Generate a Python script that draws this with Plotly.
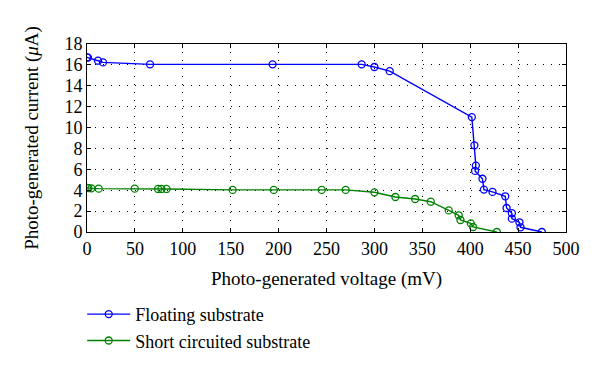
import plotly.graph_objects as go

float_v = [0, 1, 11.5, 16.7, 65.8, 193.7, 286.7, 300, 316, 401.7, 404.4, 405.9, 405.1, 412.8,
           414.3, 423.3, 436.6, 438, 443.5, 443.5, 451.4, 452.5, 474.8]
float_i = [16.72, 16.7, 16.4, 16.24, 16.05, 16.05, 16.05, 15.8, 15.4, 11.0, 8.3, 6.36, 5.85, 5.1,
           4.06, 3.84, 3.42, 2.3, 1.8, 1.28, 0.93, 0.45, 0.0]

short_v = [0, 1.5, 4.6, 12.2, 49.8, 74.2, 77.7, 83, 152, 195, 245, 270, 300, 321.9, 342.5,
           358.8, 377.6, 388, 389.8, 400.6, 403, 427.8]
short_i = [4.22, 4.2, 4.18, 4.15, 4.15, 4.12, 4.12, 4.12, 4.03, 4.03, 4.03, 4.03, 3.8, 3.35, 3.16,
           2.9, 2.07, 1.6, 1.15, 0.83, 0.48, 0.0]

names = ["Floating substrate", "Short circuited substrate"]
colors = ["#0000ff", "#008000"]

x_ticks = [0, 50, 100, 150, 200, 250, 300, 350, 400, 450, 500]
y_ticks = [0, 2, 4, 6, 8, 10, 12, 14, 16, 18]

font_family = "Liberation Serif, DejaVu Serif, serif"

fig = go.Figure()
for xs, ys, name, c in [(float_v, float_i, names[0], colors[0]), (short_v, short_i, names[1], colors[1])]:
    fig.add_trace(go.Scatter(
        x=xs, y=ys, mode="lines+markers", name=name,
        line=dict(color=c, width=1.4),
        marker=dict(symbol="circle-open", size=7, color=c, line=dict(width=1.3, color=c)),
    ))

axis_common = dict(
    showline=True, linecolor="black", linewidth=1, mirror="ticks",
    ticks="inside", ticklen=4, tickcolor="black",
    showgrid=True, gridcolor="black", gridwidth=1, griddash="1px,7px",
    zeroline=False, automargin=False,
    tickfont=dict(family=font_family, size=18, color="black"),
)

fig.update_xaxes(range=[0, 500], tickvals=x_ticks,
                 title=dict(text="Photo-generated voltage (mV)", font=dict(family=font_family, size=19, color="black"), standoff=14),
                 **axis_common)
fig.update_yaxes(range=[0, 18], tickvals=y_ticks,
                 title=dict(text="Photo-generated current (<i>μ</i>A)", font=dict(family=font_family, size=19, color="black"), standoff=20),
                 **axis_common)

fig.update_layout(
    width=600, height=369,
    margin=dict(l=79, r=42, t=36, b=145, autoexpand=False),
    plot_bgcolor="white", paper_bgcolor="white",
    font=dict(family=font_family, color="black"),
    legend=dict(x=-0.01, y=-0.34, xanchor="left", yanchor="top",
                font=dict(family=font_family, size=18, color="black"),
                bgcolor="rgba(0,0,0,0)", tracegroupgap=0, itemwidth=43),
)

fig.write_html("out.html")
